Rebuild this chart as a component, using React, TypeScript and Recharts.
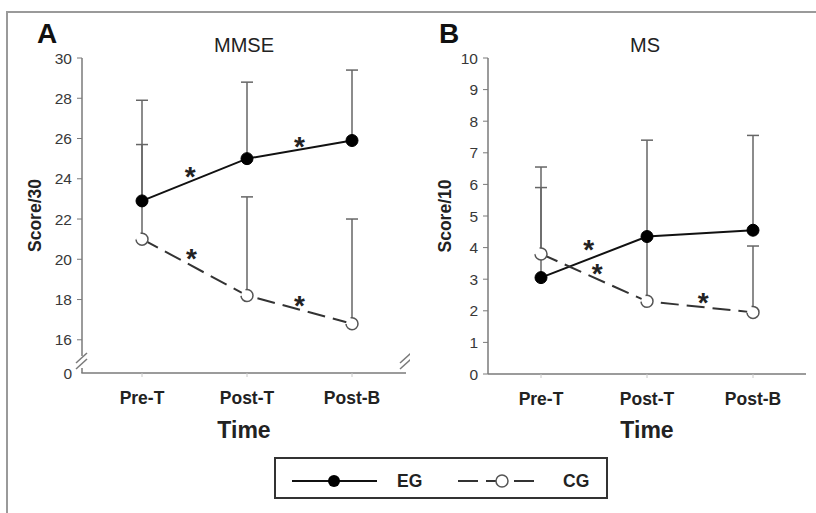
import React from 'react';
import { LineChart, Line, XAxis, YAxis, ErrorBar, ReferenceDot } from 'recharts';

const CATEGORIES = ['Pre-T', 'Post-T', 'Post-B'];

// MMSE (score / 30)
const MMSE_EG = [22.9, 25.0, 25.9];
const MMSE_EG_SD = [5.0, 3.8, 3.5];
const MMSE_CG = [21.0, 18.2, 16.8];
const MMSE_CG_SD = [4.7, 4.9, 5.2];
const MMSE_TICKS = [16, 18, 20, 22, 24, 26, 28, 30];
const MMSE_FLOOR = 14.35; // broken axis, labelled 0
const MMSE_STARS = [
  { x: 0.46, y: 24.4 },
  { x: 1.5, y: 25.9 },
  { x: 0.47, y: 20.3 },
  { x: 1.5, y: 18.0 },
];

// MS (score / 10)
const MS_EG = [3.05, 4.35, 4.55];
const MS_EG_SD = [2.85, 3.05, 3.0];
const MS_CG = [3.8, 2.3, 1.95];
const MS_CG_SD = [2.75, 2.0, 2.1];
const MS_TICKS = [0, 1, 2, 3, 4, 5, 6, 7, 8, 9, 10];
const MS_STARS = [
  { x: 0.45, y: 4.1 },
  { x: 0.53, y: 3.35 },
  { x: 1.53, y: 2.45 },
];

const FONT = '"Liberation Sans", Arial, Helvetica, sans-serif';
const AXIS = '#7a7a7a';
const Y_TICK_SIZE = 5;
const Y_TICK_MARGIN = 5;
const CHART_H = 450;

function buildRows(eg: number[], egSd: number[], cg: number[], cgSd: number[]) {
  return CATEGORIES.map((name, i) => ({
    t: i,
    name,
    eg: eg[i],
    egErr: [0, egSd[i]],
    cg: cg[i],
    cgErr: [0, cgSd[i]],
  }));
}

function BreakMark({ x, y }: { x: number; y: number }) {
  return (
    <g>
      <rect x={x - 3} y={y - 6} width={6} height={12} fill="#fff" />
      <line x1={x - 6} y1={y + 1} x2={x + 5} y2={y - 9} stroke={AXIS} strokeWidth={1.5} />
      <line x1={x - 6} y1={y + 7} x2={x + 5} y2={y - 3} stroke={AXIS} strokeWidth={1.5} />
    </g>
  );
}

// left tick labels; the floor tick of a broken axis reads 0 and gets the // marks on both sides
const makeLeftTick = (floor: number | null, plotWidth: number) => (props: any) => {
  const { x, y, payload } = props;
  const isFloor = floor !== null && payload.value === floor;
  const axisX = x + Y_TICK_SIZE + Y_TICK_MARGIN;
  return (
    <g>
      {isFloor && <rect x={axisX - 8} y={y - 2} width={7} height={4} fill="#fff" />}
      <text x={x} y={y} dy="0.36em" textAnchor="end" fontSize={15.5} fill="#383838">
        {isFloor ? '0' : payload.value}
      </text>
      {isFloor && <BreakMark x={axisX} y={y - 11} />}
      {isFloor && <BreakMark x={axisX + plotWidth} y={y - 11} />}
    </g>
  );
};

const starShape = (p: any) => (
  <text x={p.cx} y={p.cy + 15} textAnchor="middle" fontSize={28} fontWeight="bold" fill="#222">
    *
  </text>
);

interface PanelProps {
  rows: any[];
  width: number;
  yWidth: number;
  xHeight: number;
  right: number;
  yDomain: [number, number];
  yTicks: number[];
  floor: number | null;
  yLabel: string;
  pad: { left: number; right: number };
  stars: { x: number; y: number }[];
}

function Panel({ rows, width, yWidth, xHeight, right, yDomain, yTicks, floor, yLabel, pad, stars }: PanelProps) {
  const left = 20;
  const plotWidth = width - left - yWidth - right;
  return (
    <LineChart width={width} height={CHART_H} data={rows} margin={{ top: 58, right, bottom: 0, left }}>
      <XAxis
        dataKey="t"
        type="number"
        domain={[0, 2]}
        ticks={[0, 1, 2]}
        padding={pad}
        height={xHeight}
        tickFormatter={(v: number) => CATEGORIES[v]}
        tick={{ fontSize: 17.5, fontWeight: 'bold', fill: '#222' }}
        tickSize={4}
        tickMargin={15}
        tickLine={{ stroke: '#c8c8c8' }}
        axisLine={{ stroke: AXIS, strokeWidth: 1.5 }}
        label={{ value: 'Time', position: 'insideBottom', offset: 12, fontSize: 23, fontWeight: 'bold', fill: '#222' }}
      />
      <XAxis
        xAxisId="top"
        orientation="top"
        type="number"
        domain={[0, 2]}
        padding={pad}
        height={0}
        tick={false}
        tickLine={false}
        axisLine={{ stroke: AXIS, strokeWidth: 1.5 }}
      />
      <YAxis
        type="number"
        domain={yDomain}
        ticks={yTicks}
        width={yWidth}
        tickSize={Y_TICK_SIZE}
        tickMargin={Y_TICK_MARGIN}
        tickLine={{ stroke: AXIS }}
        axisLine={{ stroke: AXIS, strokeWidth: 1.5 }}
        tick={makeLeftTick(floor, plotWidth)}
        interval={0}
        label={{
          value: yLabel,
          angle: -90,
          position: 'insideLeft',
          offset: 15,
          fontSize: 17.5,
          fontWeight: 'bold',
          fill: '#222',
          style: { textAnchor: 'middle' },
        }}
      />
      <YAxis
        yAxisId="right"
        orientation="right"
        type="number"
        domain={yDomain}
        ticks={yTicks}
        width={0}
        tick={false}
        tickLine={false}
        axisLine={{ stroke: AXIS, strokeWidth: 1.5 }}
      />
      <Line
        dataKey="eg"
        stroke="#111"
        strokeWidth={2}
        dot={{ r: 6, fill: '#000', stroke: '#000', strokeWidth: 1 }}
        activeDot={false}
        isAnimationActive={false}
      >
        <ErrorBar dataKey="egErr" direction="y" width={6} stroke="#666" strokeWidth={1.5} />
      </Line>
      <Line
        dataKey="cg"
        stroke="#333"
        strokeWidth={2}
        strokeDasharray="18 8"
        dot={{ r: 6, fill: '#fff', stroke: '#555', strokeWidth: 1.5 }}
        activeDot={false}
        isAnimationActive={false}
      >
        <ErrorBar dataKey="cgErr" direction="y" width={6} stroke="#666" strokeWidth={1.5} />
      </Line>
      {stars.map((s, i) => (
        <ReferenceDot key={i} x={s.x} y={s.y} r={0} shape={starShape} />
      ))}
    </LineChart>
  );
}

export default function App() {
  const mmseRows = buildRows(MMSE_EG, MMSE_EG_SD, MMSE_CG, MMSE_CG_SD);
  const msRows = buildRows(MS_EG, MS_EG_SD, MS_CG, MS_CG_SD);

  return (
    <div
      style={{
        position: 'absolute',
        left: 0,
        top: 0,
        width: 816,
        height: 513,
        background: '#fff',
        fontFamily: FONT,
        overflow: 'hidden',
      }}
    >
      <div style={{ position: 'absolute', left: 0, top: 0 }}>
        <Panel
          rows={mmseRows}
          width={410}
          yWidth={62}
          xHeight={77}
          right={4}
          yDomain={[MMSE_FLOOR, 30]}
          yTicks={[MMSE_FLOOR, ...MMSE_TICKS]}
          floor={MMSE_FLOOR}
          yLabel="Score/30"
          pad={{ left: 60, right: 54 }}
          stars={MMSE_STARS}
        />
      </div>
      <div style={{ position: 'absolute', left: 410, top: 0 }}>
        <Panel
          rows={msRows}
          width={406}
          yWidth={58}
          xHeight={76}
          right={10}
          yDomain={[0, 10]}
          yTicks={MS_TICKS}
          floor={null}
          yLabel="Score/10"
          pad={{ left: 53, right: 53 }}
          stars={MS_STARS}
        />
      </div>

      {/* frame, panel letters, titles and legend */}
      <svg
        width={816}
        height={513}
        style={{ position: 'absolute', left: 0, top: 0, pointerEvents: 'none' }}
      >
        <path d="M7 513 V12 H816" fill="none" stroke="#9a9a9a" strokeWidth={2} />
        <text x={37} y={43} fontSize={28} fontWeight="bold" fill="#111">A</text>
        <text x={244} y={52} fontSize={20} textAnchor="middle" fill="#222">MMSE</text>
        <text x={439} y={43} fontSize={28} fontWeight="bold" fill="#111">B</text>
        <text x={645} y={52} fontSize={20} textAnchor="middle" fill="#222">MS</text>

        <rect x={275} y={458} width={332} height={40} fill="#fff" stroke="#333" strokeWidth={2} />
        <line x1={292} y1={481} x2={377} y2={481} stroke="#111" strokeWidth={2} />
        <circle cx={334} cy={481} r={6} fill="#000" />
        <text x={397} y={487} fontSize={17.5} fontWeight="bold" fill="#222">EG</text>
        <line x1={458} y1={481} x2={535} y2={481} stroke="#333" strokeWidth={2} strokeDasharray="20 8" />
        <circle cx={502} cy={481} r={6} fill="#fff" stroke="#555" strokeWidth={1.5} />
        <text x={563} y={487} fontSize={17.5} fontWeight="bold" fill="#222">CG</text>
      </svg>
    </div>
  );
}
